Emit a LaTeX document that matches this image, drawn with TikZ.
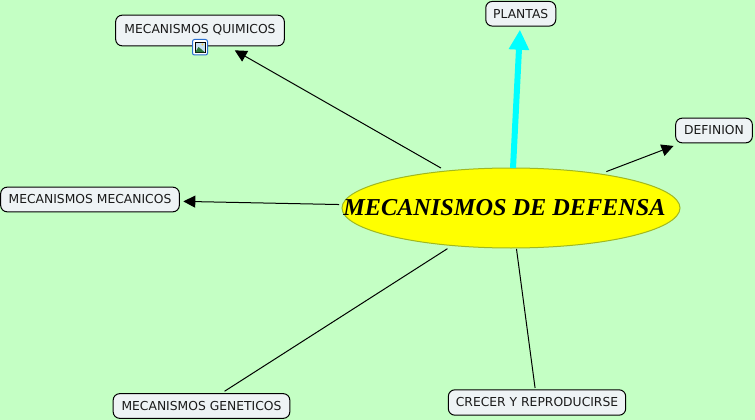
\documentclass[tikz,border=0pt]{standalone}
\usepackage{fontspec}
\setmainfont{DejaVu Sans}
\newfontfamily\titlefont{Liberation Serif}
\usetikzlibrary{shapes.geometric,arrows.meta}
\definecolor{bgc}{HTML}{C4FFC4}
\definecolor{boxc}{HTML}{EEF3F5}
\definecolor{ink}{HTML}{1A1A1A}
\definecolor{ellfill}{HTML}{FFFF00}
\definecolor{ellline}{HTML}{A0B820}
\definecolor{cyanlink}{HTML}{00FFFF}
\definecolor{iconline}{HTML}{2A6FD0}
\definecolor{iconsky}{HTML}{C8E0F4}
\definecolor{iconhill}{HTML}{2E7A3C}
\definecolor{iconsun}{HTML}{F0D060}
\tikzset{
  x=0.75pt,y=-0.75pt,
  conc/.style={draw=black,fill=boxc,rounded corners=6.5*0.75pt,line width=0.75pt,inner sep=0pt,
    text=ink,font=\fontsize{9.25pt}{11pt}\selectfont,anchor=center},
  link/.style={draw=black,line width=0.75pt},
  arrowlink/.style={link,-{Triangle[length=9pt,width=9pt]}},
  cyanarrow/.style={draw=cyanlink,line width=4.5pt,-{Triangle[length=15pt,width=14.5pt]}},
}
\begin{document}
\begin{tikzpicture}
\useasboundingbox (0,0) rectangle (755,420);
\fill[bgc] (0,0) rectangle (755,420);
\node[draw=ellline,fill=ellfill,ellipse,line width=0.75pt,inner sep=0pt,minimum width=253.5pt,minimum height=60pt] (main) at (511,208) {};
\node[font=\titlefont\bfseries\itshape\fontsize{18.2pt}{20pt}\selectfont,text=black,inner sep=0pt] (maintxt) at (504.5,208) {MECANISMOS DE DEFENSA};
\node[conc,minimum width=126.5pt,minimum height=23pt] (quim) at (200,30.5) {\raisebox{2.3pt}{MECANISMOS QUIMICOS}};
\node[conc,minimum width=52.5pt,minimum height=18.5pt] (plan) at (520.75,13.75) {PLANTAS};
\node[conc,minimum width=57.5pt,minimum height=18.5pt] (defi) at (714,130.5) {DEFINION};
\node[conc,minimum width=134pt,minimum height=18.5pt] (meca) at (90,199.5) {MECANISMOS MECANICOS};
\node[conc,minimum width=132.5pt,minimum height=18.5pt] (gene) at (201.5,406) {MECANISMOS GENETICOS};
\node[conc,minimum width=133pt,minimum height=19pt] (crec) at (537,402.5) {CRECER Y REPRODUCIRSE};
\draw[arrowlink,shorten <=60.5pt,shorten >=30pt] (main.center) -- (quim.center);
\draw[cyanarrow,shorten <=30pt,shorten >=12pt] (main.center) -- (plan.center);
\draw[arrowlink,shorten <=76.5pt,shorten >=32.5pt] (main.center) -- (defi.center);
\draw[arrowlink,shorten <=129pt,shorten >=70pt] (main.center) -- (meca.center);
\draw[link,shorten <=56.6pt,shorten >=20.5pt] (main.center) -- (gene.center);
\draw[link,shorten <=31pt,shorten >=11pt] (main.center) -- (crec.center);
% picture icon
\draw[draw=iconline,fill=white,rounded corners=1.5pt,line width=0.75pt] (192.5,39.5) rectangle (207.5,55);
\draw[draw=black,fill=iconsky,line width=0.5pt] (195,42) rectangle (205,52.5);
\fill[iconhill] (195,52.5) -- (198.5,47) -- (201,49) -- (205,52.5) -- cycle;
\fill[iconsun] (202.5,44.5) circle (1.2);
\end{tikzpicture}
\end{document}
